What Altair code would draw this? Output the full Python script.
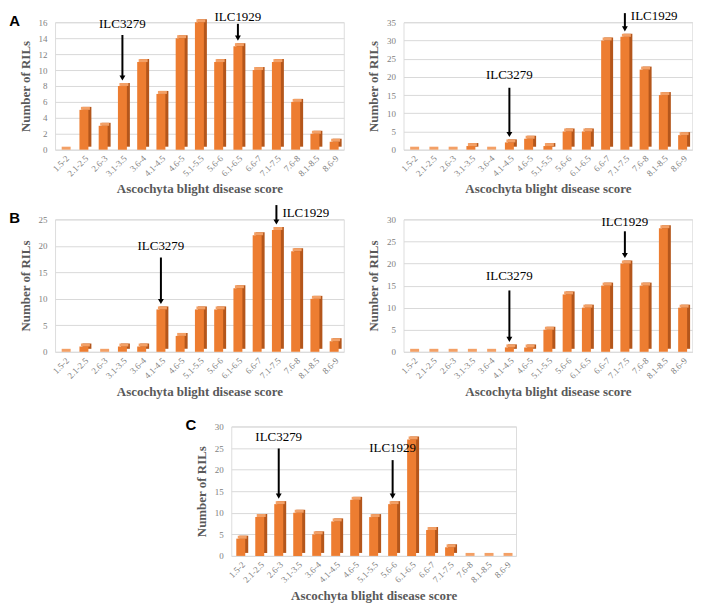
import altair as alt
import pandas as pd

categories = ["1.5-2", "2.1-2.5", "2.6-3", "3.1-3.5", "3.6-4", "4.1-4.5", "4.6-5",
              "5.1-5.5", "5.6-6", "6.1-6.5", "6.6-7", "7.1-7.5", "7.6-8", "8.1-8.5", "8.6-9"]

a_left = [0, 5, 3, 8, 11, 7, 14, 16, 11, 13, 10, 11, 6, 2, 1]
a_right = [0, 0, 0, 1, 0, 2, 3, 1, 5, 5, 30, 31, 22, 15, 4]
b_left = [0, 1, 0, 1, 1, 8, 3, 8, 8, 12, 22, 23, 19, 10, 2]
b_right = [0, 0, 0, 0, 0, 1, 1, 5, 13, 10, 15, 20, 15, 28, 10]
c_vals = [4, 9, 12, 10, 5, 8, 13, 9, 12, 27, 6, 2, 0, 0, 0]

# annotations: (label, category, arrow top (data units), label y (data units), align)
a_left_ann = [("ILC3279", "3.1-3.5", 14.4, 15.8, "center"),
              ("ILC1929", "6.1-6.5", 15.8, 16.7, "center")]
a_right_ann = [("ILC3279", "4.1-4.5", 17.0, 20.4, "center"),
               ("ILC1929", "7.1-7.5", 37.5, 36.6, "left")]
b_left_ann = [("ILC3279", "4.1-4.5", 17.8, 20.0, "center"),
              ("ILC1929", "7.1-7.5", 27.7, 26.2, "left")]
b_right_ann = [("ILC3279", "4.1-4.5", 13.9, 17.2, "center"),
               ("ILC1929", "7.1-7.5", 27.3, 29.5, "center")]
c_ann = [("ILC3279", "2.6-3", 24.9, 27.6, "center"),
         ("ILC1929", "5.6-6", 22.2, 24.9, "center")]

FRONT = "#ED7D31"
SIDE = "#B4561B"
TOP = "#F3A066"
SERIF = "Liberation Serif"
GRAY = "#595959"


def panel(values, ymax, step, ann, letter, w=290, h=130, pad_left=False, pad_top=0):
    df = pd.DataFrame({"cat": categories, "val": values})
    xaxis = alt.Axis(labelAngle=-45, labelFont=SERIF, labelFontSize=9,
                     labelColor="#808080", ticks=False, domain=False,
                     labelPadding=4, titleFont=SERIF, titleFontSize=13,
                     titleFontWeight="bold", titleColor=GRAY, titlePadding=5)
    xscale = alt.Scale(paddingInner=0.5, paddingOuter=0.25)
    yaxis = alt.Axis(values=list(range(0, ymax + 1, step)), labelFont=SERIF,
                     labelFontSize=9, labelColor="#808080", ticks=False,
                     labelOverlap=False, labelFlush=False,
                     domain=False, gridColor="#D9D9D9", labelPadding=8,
                     titleFont=SERIF, titleFontSize=13, titleFontWeight="bold",
                     titleColor=GRAY, titlePadding=6)
    yscale = alt.Scale(domain=[0, ymax], nice=False)
    YT = "Number of RILs"
    XT = "Ascochyta blight disease score"

    def X():
        return alt.X("cat:N", sort=categories, title=XT, scale=xscale, axis=xaxis)

    def Y(f):
        return alt.Y(f, title=YT, scale=yscale, axis=yaxis)

    base = alt.Chart(df)
    side = base.mark_bar(color=SIDE, size=9, xOffset=3, yOffset=-3, y2Offset=0).encode(
        x=X(), y=Y("val:Q"))
    front = base.mark_bar(color=FRONT, size=9).encode(x=X(), y=Y("val:Q"))
    top = base.mark_bar(color=TOP, size=9, xOffset=1.5, yOffset=-3).encode(
        x=X(), y=Y("val:Q"), y2="val:Q")
    layers = [side, front, top]
    for label, cat, atop, ly, align in ann:
        val = values[categories.index(cat)]
        adf = pd.DataFrame({"cat": [cat], "val": [val], "top": [atop], "ly": [ly],
                            "label": [label]})
        ab = alt.Chart(adf)
        layers.append(ab.mark_rule(color="black", strokeWidth=2, y2Offset=-9).encode(
            x=X(), y=Y("top:Q"), y2="val:Q"))
        layers.append(ab.mark_point(shape="triangle-down", filled=True, color="black",
                                    size=35, opacity=1, yOffset=-8).encode(
            x=X(), y=Y("val:Q")))
        layers.append(ab.mark_text(font=SERIF, fontSize=13, color="black", align=align,
                                   dx=6 if align == "left" else 0,
                                   baseline="middle").encode(
            x=X(), y=Y("ly:Q"), text="label:N"))
    if letter:
        layers.append(alt.Chart(pd.DataFrame({"t": [letter]})).mark_text(
            font="Liberation Sans", fontSize=15, fontWeight="bold", color="black",
            align="left", baseline="middle").encode(
            x=alt.value(-46), y=alt.value(-1), text="t:N"))
    if pad_left or pad_top:
        layers.append(alt.Chart(pd.DataFrame({"t": ["."]})).mark_text(
            opacity=0, fontSize=4).encode(
            x=alt.value(-75 if pad_left else 10), y=alt.value(-pad_top), text="t:N"))
    return alt.layer(*layers).properties(width=w, height=h)


row1 = alt.hconcat(panel(a_left, 16, 2, a_left_ann, "A", h=128),
                   panel(a_right, 35, 5, a_right_ann, "", h=128), spacing=22)
row2 = alt.hconcat(panel(b_left, 25, 5, b_left_ann, "B", h=133),
                   panel(b_right, 30, 5, b_right_ann, "", h=133), spacing=22)
row3 = panel(c_vals, 30, 5, c_ann, "C", w=286, h=130, pad_left=True, pad_top=18)

chart = alt.vconcat(row1, row2, row3, spacing=7, center=True).configure_view(
    stroke=None).configure(padding=0).properties(background="white")

chart.save("out.html", embed_options={"renderer": "svg", "actions": False})
